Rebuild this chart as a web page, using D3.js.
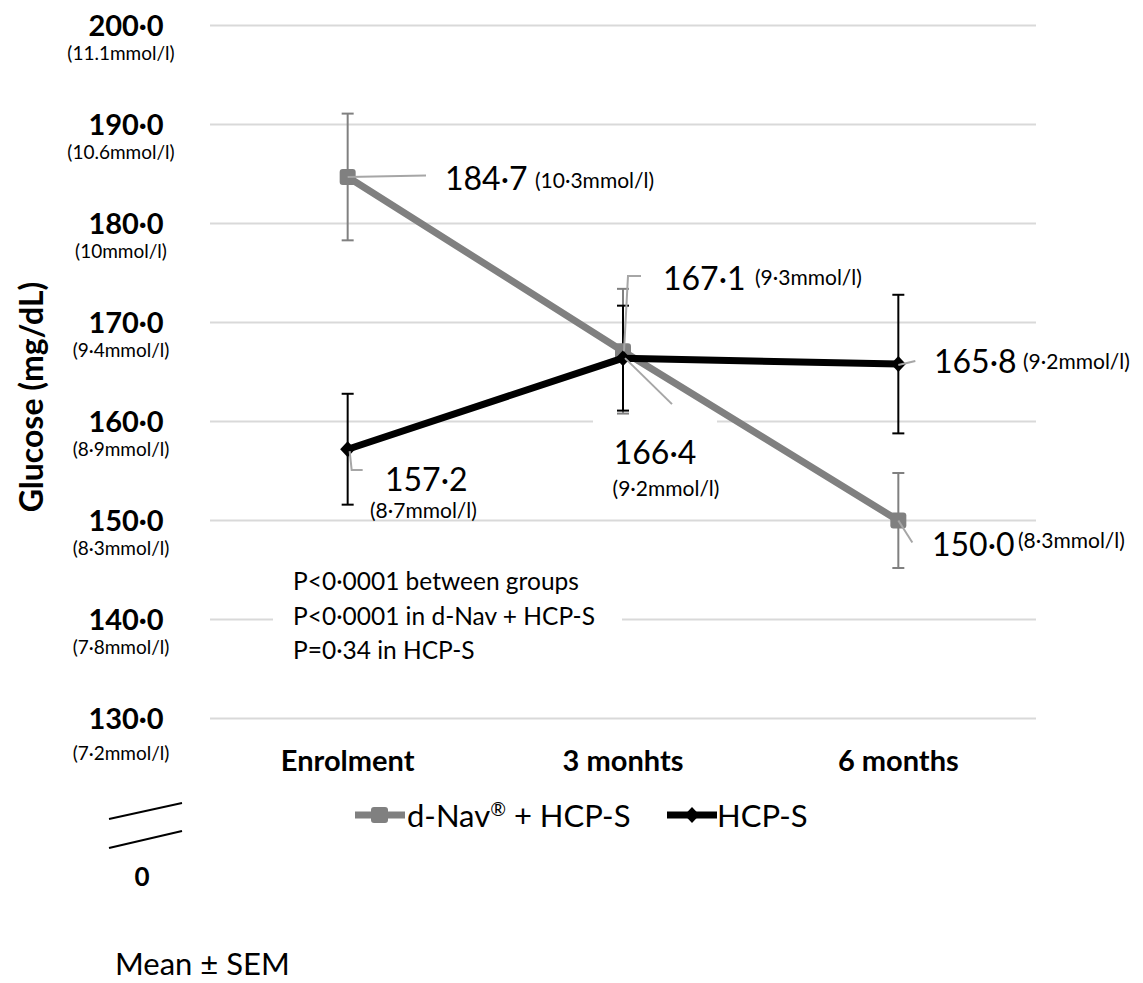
<!DOCTYPE html>
<html><head><meta charset="utf-8">
<script src="https://cdn.jsdelivr.net/npm/d3@7"></script>
<style>body{margin:0;background:#fff}svg{font-family:Lato,"Open Sans",sans-serif}</style>
</head><body><svg id="c" width="1143" height="983"></svg>
<script>
const categories = ["Enrolment", "3 monhts", "6 months"];
const seriesNames = ["d-Nav\u00AE + HCP-S", "HCP-S"];
const dnavValues = [184.7, 167.1, 150.0];
const dnavSem = [6.4, 6.3, 4.8];
const dnavMmol = ["(10·3mmol/l)", "(9·3mmol/l)", "(8·3mmol/l)"];
const hcpValues = [157.2, 166.4, 165.8];
const hcpSem = [5.6, 5.3, 7.0];
const hcpMmol = ["(8·7mmol/l)", "(9·2mmol/l)", "(9·2mmol/l)"];
const yTicks = [130, 140, 150, 160, 170, 180, 190, 200];
const yTickMmol = ["(7·2mmol/l)", "(7·8mmol/l)", "(8·3mmol/l)", "(8·9mmol/l)", "(9·4mmol/l)", "(10mmol/l)", "(10.6mmol/l)", "(11.1mmol/l)"];
const pTexts = ["P<0·0001 between groups", "P<0·0001 in d-Nav + HCP-S", "P=0·34 in HCP-S"];

const svg = d3.select("#c");
const fmt = v => v.toFixed(1).replace(".", "·");
const x = d3.scaleBand().domain(categories).range([210, 1036]);
const xc = c => x(c) + x.bandwidth() / 2;
const y = d3.scaleLinear().domain([130, 200]).range([718.5, 25.5]);

// gridlines
svg.append("g").selectAll("line").data(yTicks).join("line")
  .attr("x1", 210).attr("x2", 1036).attr("y1", d => y(d)).attr("y2", d => y(d))
  .attr("stroke", "#d9d9d9").attr("stroke-width", 2);

// y tick labels
const yl = svg.append("g");
yl.selectAll("text.v").data(yTicks).join("text").attr("class", "v")
  .attr("x", 126).attr("y", d => y(d) + 10).attr("text-anchor", "middle")
  .attr("font-size", 29).attr("font-weight", "bold").text(d => fmt(d));
yl.selectAll("text.m").data(yTicks).join("text").attr("class", "m")
  .attr("x", 121).attr("y", (d, i) => y(d) + (d === 130 ? 41 : 34)).attr("text-anchor", "middle")
  .attr("font-size", 19).text((d, i) => yTickMmol[i]);

svg.append("text").attr("transform", "translate(43,397) rotate(-90)")
  .attr("text-anchor", "middle").attr("font-size", 32).attr("font-weight", "bold").text("Glucose (mg/dL)");

// x labels
svg.append("g").selectAll("text").data(categories).join("text")
  .attr("x", d => xc(d)).attr("y", 771).attr("text-anchor", "middle")
  .attr("font-size", 29).attr("font-weight", "bold").text(d => d);

// p-value box
svg.append("rect").attr("x", 273).attr("y", 560).attr("width", 349).attr("height", 108).attr("fill", "#fff");
svg.append("g").selectAll("text").data(pTexts).join("text")
  .attr("x", 293).attr("y", (d, i) => [590, 625, 659][i]).attr("font-size", 24.5).text(d => d);

// series
const series = [
  {vals: dnavValues, sem: dnavSem, color: "#808080", marker: "square"},
  {vals: hcpValues, sem: hcpSem, color: "#000", marker: "diamond"}
];
const line = d3.line().x((d, i) => xc(categories[i])).y(d => y(d));
series.forEach(s => {
  const g = svg.append("g");
  g.selectAll("line.eb").data(s.vals).join("line").attr("class", "eb")
    .attr("x1", (d, i) => xc(categories[i])).attr("x2", (d, i) => xc(categories[i]))
    .attr("y1", (d, i) => y(d + s.sem[i])).attr("y2", (d, i) => y(d - s.sem[i]))
    .attr("stroke", s.color).attr("stroke-width", 2);
  [1, -1].forEach(sg => {
    g.selectAll("line.cap" + sg).data(s.vals).join("line")
      .attr("x1", (d, i) => xc(categories[i]) - 6).attr("x2", (d, i) => xc(categories[i]) + 6)
      .attr("y1", (d, i) => y(d + sg * s.sem[i])).attr("y2", (d, i) => y(d + sg * s.sem[i]))
      .attr("stroke", s.color).attr("stroke-width", 2);
  });
});
const diamond = "M0,-8L7.5,0L0,8L-7.5,0Z";
series.forEach(s => {
  const g = svg.append("g");
  g.append("path").attr("d", line(s.vals)).attr("fill", "none").attr("stroke", s.color)
    .attr("stroke-width", 7).attr("stroke-linejoin", "round");
  if (s.marker === "square") {
    g.selectAll("rect").data(s.vals).join("rect")
      .attr("x", (d, i) => xc(categories[i]) - 8).attr("y", d => y(d) - 8)
      .attr("width", 16).attr("height", 16).attr("rx", 3).attr("fill", s.color);
  } else {
    g.selectAll("path.m").data(s.vals).join("path").attr("class", "m").attr("d", diamond)
      .attr("transform", (d, i) => `translate(${xc(categories[i])},${y(d)})`).attr("fill", s.color);
  }
});

// white box covering a hidden label (as in original)
svg.append("rect").attr("x", 593).attr("y", 419).attr("width", 124).attr("height", 10).attr("fill", "#fff");

const lab = (val, mm, vx, vy, mx, my, anchor) => {
  svg.append("text").attr("x", vx).attr("y", vy).attr("font-size", 32).attr("text-anchor", anchor || "start").text(fmt(val));
  svg.append("text").attr("x", mx).attr("y", my).attr("font-size", 21).attr("text-anchor", anchor || "start").text(mm);
};
const leader = pts => svg.append("polyline").attr("points", pts.map(p => p.join(",")).join(" "))
  .attr("fill", "none").attr("stroke", "#a6a6a6").attr("stroke-width", 2);

const X0 = xc(categories[0]), X1 = xc(categories[1]), X2 = xc(categories[2]);
leader([[X0, y(dnavValues[0])], [426, y(dnavValues[0]) - 1.5]]);
lab(dnavValues[0], dnavMmol[0], 445, 190, 535, 188);
leader([[X1 + 1, y(dnavValues[1])], [X1 + 5, 276], [641, 276]]);
lab(dnavValues[1], dnavMmol[1], 663, 290, 755, 285);
leader([[X2, y(dnavValues[2])], [X2 + 14, y(dnavValues[2]) + 22]]);
lab(dnavValues[2], dnavMmol[2], 932, 556, 1018, 548);

leader([[X0 + 2, y(hcpValues[0]) + 2], [X0 + 4, 470], [X0 + 15, 470]]);
lab(hcpValues[0], hcpMmol[0], 385, 491, 370, 518);
leader([[X1 + 2, y(hcpValues[1])], [X1 + 49, y(hcpValues[1]) + 46]]);
lab(hcpValues[1], hcpMmol[1], 655, 464, 666, 496, "middle");
leader([[X2, y(hcpValues[2]) + 1], [X2 + 17, y(hcpValues[2]) - 3]]);
lab(hcpValues[2], hcpMmol[2], 934, 373, 1023, 369);

// legend
const lg = svg.append("g");
lg.append("line").attr("x1", 355).attr("x2", 405).attr("y1", 815).attr("y2", 815).attr("stroke", "#808080").attr("stroke-width", 7);
lg.append("rect").attr("x", 371).attr("y", 807).attr("width", 17).attr("height", 16).attr("rx", 3).attr("fill", "#808080");
const lt = lg.append("text").attr("x", 407).attr("y", 827).attr("font-size", 31);
lt.append("tspan").text("d-Nav");
lt.append("tspan").attr("font-size", 19).attr("dy", -11).text("\u00AE");
lt.append("tspan").attr("dy", 11).text(" + HCP-S");
lg.append("line").attr("x1", 667).attr("x2", 717).attr("y1", 815).attr("y2", 815).attr("stroke", "#000").attr("stroke-width", 7);
lg.append("path").attr("d", diamond).attr("transform", "translate(692,815)");
lg.append("text").attr("x", 717).attr("y", 827).attr("font-size", 31).text(seriesNames[1]);

// axis break
svg.append("line").attr("x1", 109).attr("y1", 819).attr("x2", 182).attr("y2", 803).attr("stroke", "#000").attr("stroke-width", 2);
svg.append("line").attr("x1", 109).attr("y1", 848).attr("x2", 182).attr("y2", 831).attr("stroke", "#000").attr("stroke-width", 2);
svg.append("text").attr("x", 142).attr("y", 886).attr("text-anchor", "middle").attr("font-size", 26).attr("font-weight", "bold").text("0");

svg.append("text").attr("x", 115).attr("y", 975).attr("font-size", 31).text("Mean ± SEM");
</script></body></html>
